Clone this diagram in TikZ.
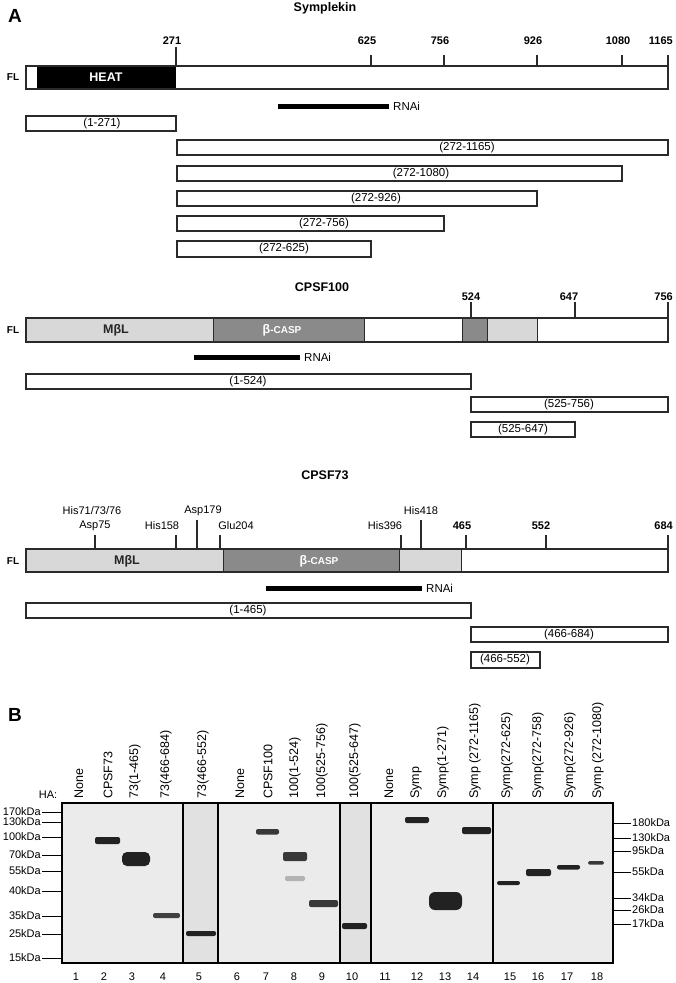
\documentclass[tikz,border=0pt]{standalone}
\usepackage{fontspec}
\setmainfont{Liberation Sans}
\definecolor{lg}{HTML}{D8D8D8}
\definecolor{dg}{HTML}{8A8A8A}
\definecolor{blot}{HTML}{EBEBEB}
\definecolor{blotdk}{HTML}{E1E1E1}
\definecolor{band}{HTML}{222222}
\definecolor{edge}{HTML}{2A2A2A}
\begin{document}
\begin{tikzpicture}[x=1pt,y=-1pt,
  bar/.style={draw=edge, line width=1.5pt},
  frag/.style={draw=edge, line width=1.5pt, fill=white},
  tk/.style={line width=1.2pt, draw=edge},
  rnai/.style={line width=5pt, draw=black},
  num/.style={font=\bfseries\fontsize{11}{11}\selectfont, inner sep=0},
  lbl/.style={font=\fontsize{11.5}{12}\selectfont, inner sep=0},
  res/.style={font=\fontsize{11}{11}\selectfont, inner sep=0},
  ttl/.style={font=\bfseries\fontsize{12.5}{13}\selectfont, inner sep=0},
  panel/.style={font=\bfseries\fontsize{19}{19}\selectfont, inner sep=0},
  fl/.style={font=\bfseries\fontsize{10}{10}\selectfont, inner sep=0},
  dom/.style={font=\bfseries\fontsize{12.5}{12.5}\selectfont, inner sep=0},
  lane/.style={rotate=90, anchor=west, font=\fontsize{12.5}{12.5}\selectfont, inner sep=0},
  lnum/.style={font=\fontsize{11}{11}\selectfont, inner sep=0},
  mkl/.style={font=\fontsize{11}{11}\selectfont, inner sep=0, anchor=east},
  mkr/.style={font=\fontsize{11}{11}\selectfont, inner sep=0, anchor=west},
  sep/.style={line width=1.3pt, draw=black}
]
\useasboundingbox (0,0) rectangle (675,983);

% ================= Panel A: Symplekin =================
\node[panel] (lA) at (15,16) {A};
\node[ttl] (tSym) at (325,8) {Symplekin};
\fill[white] (26,66) rectangle (668,89);
\fill[black] (37,66) rectangle (176,89);
\draw[bar] (26,66) rectangle (668,89);
\node[dom, white] (heat) at (106,77.5) {HEAT};
\node[fl] (flS) at (13,77.5) {FL};
\draw[tk] (176,47) -- (176,66);
\foreach \x in {371,444,537,622}{\draw[tk] (\x,55) -- (\x,66);}
\draw[tk] (668,55) -- (668,66);
\node[num] (s271) at (172,41) {271};
\node[num] (s625) at (367,41) {625};
\node[num] (s756) at (440,41) {756};
\node[num] (s926) at (533,41) {926};
\node[num] (s1080) at (618,41) {1080};
\node[num, anchor=east] (s1165) at (673,41) {1165};
\coordinate (rS1) at (278,106);
\coordinate (rS2) at (389,106);
\draw[rnai] (rS1) -- (rS2);
\node[lbl, anchor=west] (rnaiS) at (393,106) {RNAi};
\draw[frag] (26,116) rectangle (176,131);
\node[lbl] (f1) at (102,123.5) {(1-271)};
\draw[frag] (177,140) rectangle (668,155);
\node[lbl] (f2) at (467,147.5) {(272-1165)};
\draw[frag] (177,166) rectangle (622,181);
\node[lbl] (f3) at (421,173.5) {(272-1080)};
\draw[frag] (177,191) rectangle (537,206);
\node[lbl] (f4) at (376,198.5) {(272-926)};
\draw[frag] (177,216) rectangle (444,231);
\node[lbl] (f5) at (324,223.5) {(272-756)};
\draw[frag] (177,241) rectangle (371,257);
\node[lbl] (f6) at (284,249) {(272-625)};

% ================= Panel A: CPSF100 =================
\node[ttl] (t100) at (322,287) {CPSF100};
\fill[lg] (26,318) rectangle (213,342);
\fill[dg] (213,318) rectangle (364,342);
\fill[white] (364,318) rectangle (462,342);
\fill[dg] (462,318) rectangle (487,342);
\fill[lg] (487,318) rectangle (537,342);
\fill[white] (537,318) rectangle (668,342);
\foreach \x in {213,364,462,487,537}{\draw[line width=1pt, draw=edge] (\x,318) -- (\x,342);}
\draw[bar] (26,318) rectangle (668,342);
\node[dom, black!85] (mbl1) at (116,330) {MβL};
\node[dom, white] (bc1) at (282,330) {β{\fontsize{10}{10}\selectfont -CASP}};
\node[fl] (fl1) at (13,330) {FL};
\draw[tk] (471,302) -- (471,318);
\draw[tk] (575,302) -- (575,318);
\draw[tk] (668,302) -- (668,318);
\node[num] (c524) at (471,297) {524};
\node[num] (c647) at (569,297) {647};
\node[num, anchor=east] (c756) at (673,297) {756};
\coordinate (r1a) at (194,357);
\coordinate (r1b) at (300,357);
\draw[rnai] (r1a) -- (r1b);
\node[lbl, anchor=west] (rnai1) at (304,357) {RNAi};
\draw[frag] (26,374) rectangle (471,389);
\node[lbl] (g1) at (248,381.5) {(1-524)};
\draw[frag] (471,397) rectangle (668,412);
\node[lbl] (g2) at (569,404.5) {(525-756)};
\draw[frag] (471,422) rectangle (575,437);
\node[lbl] (g3) at (523,429.5) {(525-647)};

% ================= Panel A: CPSF73 =================
\node[ttl] (t73) at (325,475) {CPSF73};
\fill[lg] (26,549) rectangle (223,572);
\fill[dg] (223,549) rectangle (399,572);
\fill[lg] (399,549) rectangle (461,572);
\fill[white] (461,549) rectangle (668,572);
\foreach \x in {223,399,461}{\draw[line width=1pt, draw=edge] (\x,549) -- (\x,572);}
\draw[bar] (26,549) rectangle (668,572);
\node[dom, black!85] (mbl2) at (127,561) {MβL};
\node[dom, white] (bc2) at (319,561) {β{\fontsize{10}{10}\selectfont -CASP}};
\node[fl] (fl2) at (13,561) {FL};
\foreach \x in {95,176,220,401,466,546,668}{\draw[tk] (\x,535) -- (\x,549);}
\foreach \x in {197,421}{\draw[tk] (\x,520) -- (\x,549);}
\node[res] (h71) at (92,511) {His71/73/76};
\node[res] (a75) at (95,526) {Asp75};
\node[res] (h158) at (162,526) {His158};
\node[res] (a179) at (203,511) {Asp179};
\node[res] (g204) at (236,526) {Glu204};
\node[res] (h396) at (385,526) {His396};
\node[res] (h418) at (421,511) {His418};
\node[num] (n465) at (462,526) {465};
\node[num] (n552) at (541,526) {552};
\node[num, anchor=east] (n684) at (673,526) {684};
\coordinate (r2a) at (266,588);
\coordinate (r2b) at (422,588);
\draw[rnai] (r2a) -- (r2b);
\node[lbl, anchor=west] (rnai2) at (426,588) {RNAi};
\draw[frag] (26,603) rectangle (471,618);
\node[lbl] (h1) at (248,610.5) {(1-465)};
\draw[frag] (471,627) rectangle (668,642);
\node[lbl] (h2) at (569,634.5) {(466-684)};
\draw[frag] (471,652) rectangle (540,668);
\node[lbl] (h3) at (505,660) {(466-552)};

% ================= Panel B =================
\node[panel] (lB) at (15,715) {B};
\node[lnum] (ha) at (48,795) {HA:};
\foreach \x/\t [count=\i] in {79/None,108/CPSF73,135/73(1-465),166/73(466-684),203/73(466-552),240/None,268/CPSF100,295/100(1-524),322/100(525-756),355/100(525-647),389/None,416/Symp,443/Symp(1-271),475/Symp (272-1165),507/Symp(272-625),538/Symp(272-758),570/Symp(272-926),598/Symp (272-1080)}{
  \node[lane] (lab\i) at (\x,799) {\t};
}
% blot
\fill[blot] (62,803) rectangle (613,963);
\fill[blotdk] (183,803) rectangle (218,963);
\fill[blotdk] (340,803) rectangle (371,963);
% bands
\fill[band, rounded corners=2pt] (95,837) rectangle (120,844);
\fill[band, rounded corners=5pt] (122,852) rectangle (150,866);
\fill[black!75, rounded corners=2pt] (153,913) rectangle (180,918);
\fill[band, rounded corners=2pt] (186,931) rectangle (216,936);
\fill[band!90, rounded corners=2pt] (256,829) rectangle (279,834.5);
\fill[band!90, rounded corners=2pt] (283,852) rectangle (307,861);
\fill[black!30, rounded corners=2pt] (285,876) rectangle (305,881);
\fill[band!90, rounded corners=2pt] (309,900) rectangle (338,907);
\fill[band, rounded corners=2pt] (342,923) rectangle (367,929);
\fill[band, rounded corners=2pt] (405,817) rectangle (429,823);
\fill[band, rounded corners=6pt] (429,892) rectangle (462,910);
\fill[band, rounded corners=2pt] (462,827) rectangle (491,834);
\fill[band, rounded corners=2pt] (497,881) rectangle (520,885);
\fill[band, rounded corners=2pt] (526,869) rectangle (551,876);
\fill[band, rounded corners=2pt] (557,865) rectangle (580,869.5);
\fill[band!90, rounded corners=1.5pt] (588,861) rectangle (604,864.5);
% frame and separators
\draw[line width=1.5pt, draw=black] (62,803) rectangle (613,963);
\foreach \x in {183,218,340,493}{\draw[sep] (\x,803) -- (\x,963);}
\draw[line width=2pt] (371,803) -- (371,963);
% lane numbers
\foreach \x [count=\i] in {76,104,132,163,199,237,266,294,322,352,385,417,445,473,510,538,567,597}{
  \node[lnum] (num\i) at (\x,977) {\i};
}
% left markers
\foreach \y/\t [count=\i] in {812/170kDa,822/130kDa,837/100kDa,855/70kDa,871/55kDa,891/40kDa,916/35kDa,934/25kDa,958/15kDa}{
  \node[mkl] (ml\i) at (41,\y) {\t};
  \draw[line width=1pt] (42,\y) -- (62,\y);
}
% right markers
\foreach \y/\t [count=\i] in {823/180kDa,838/130kDa,851/95kDa,872/55kDa,898/34kDa,910/26kDa,924/17kDa}{
  \node[mkr] (mr\i) at (632,\y) {\t};
  \draw[line width=1pt] (613,\y) -- (631,\y);
}
\end{tikzpicture}
\end{document}
